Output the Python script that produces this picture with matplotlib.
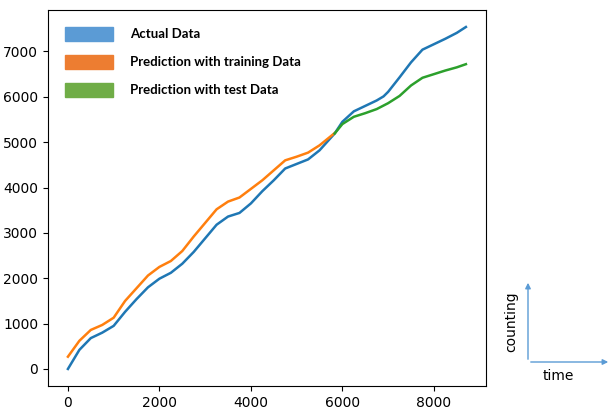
import matplotlib.pyplot as plt
from matplotlib.patches import Patch

# actual data
x_actual = [0, 250, 500, 750, 1000, 1250, 1500, 1750, 2000, 2250, 2500, 2750, 3000,
            3250, 3500, 3750, 4000, 4250, 4500, 4750, 5000, 5250, 5500, 5750, 5830,
            6000, 6250, 6500, 6750, 6900, 7000, 7250, 7500, 7750, 8000, 8250, 8500, 8700]
y_actual = [0, 420, 680, 800, 950, 1260, 1540, 1800, 1990, 2120, 2320, 2580, 2880,
            3180, 3360, 3440, 3650, 3920, 4160, 4420, 4520, 4620, 4820, 5100, 5190,
            5450, 5680, 5800, 5920, 6010, 6110, 6430, 6760, 7040, 7160, 7280, 7410, 7540]

# prediction on training part
x_train = [0, 250, 500, 750, 1000, 1250, 1500, 1750, 2000, 2250, 2500, 2750, 3000,
           3250, 3500, 3750, 4000, 4250, 4500, 4750, 5000, 5250, 5500, 5830]
y_train = [270, 620, 860, 970, 1130, 1500, 1780, 2060, 2250, 2380, 2600, 2920, 3220,
           3520, 3690, 3780, 3970, 4160, 4380, 4600, 4680, 4770, 4930, 5200]

# prediction on test part
x_test = [5830, 6000, 6250, 6500, 6750, 7000, 7250, 7500, 7750, 8000, 8250, 8500, 8700]
y_test = [5190, 5400, 5560, 5640, 5730, 5860, 6020, 6250, 6420, 6500, 6580, 6650, 6720]

legend_labels = ['Actual Data', 'Prediction with training Data', 'Prediction with test Data']
legend_colors = ['#5b9bd5', '#ed7d31', '#70ad47']

fig = plt.figure(figsize=(6.11, 4.12), dpi=100)
ax = fig.add_axes([0.0786, 0.063, 0.7165, 0.913])

ax.plot(x_actual, y_actual, color='tab:blue', lw=1.8)
ax.plot(x_train, y_train, color='tab:orange', lw=1.8)
ax.plot(x_test, y_test, color='tab:green', lw=1.8)
ax.set_yticks(range(0, 8000, 1000))

handles = [Patch(color=c) for c in legend_colors]
leg = ax.legend(handles, legend_labels, loc='upper left', frameon=False,
                handlelength=3.6, handleheight=1.25, labelspacing=1.05,
                handletextpad=1.3, borderaxespad=0.9,
                prop={'family': 'Lato', 'weight': 'bold', 'size': 9.5})

# small axis sketch on the right
arrow = dict(arrowstyle='-|>', color='#5b9bd5', lw=1, mutation_scale=8)
fig.add_artist(plt.Annotation('', xy=(528 / 611, 1 - 280 / 412), xytext=(528 / 611, 1 - 362 / 412),
                              xycoords='figure fraction', arrowprops=arrow))
fig.add_artist(plt.Annotation('', xy=(611 / 611, 1 - 362 / 412), xytext=(528 / 611, 1 - 362 / 412),
                              xycoords='figure fraction', arrowprops=arrow))
fig.text(511 / 611, 1 - 322 / 412, 'counting', rotation=90, ha='center', va='center', fontsize=10)
fig.text(558 / 611, 1 - 376 / 412, 'time', ha='center', va='center', fontsize=10)

plt.savefig('out.png', dpi=100)
plt.close()
